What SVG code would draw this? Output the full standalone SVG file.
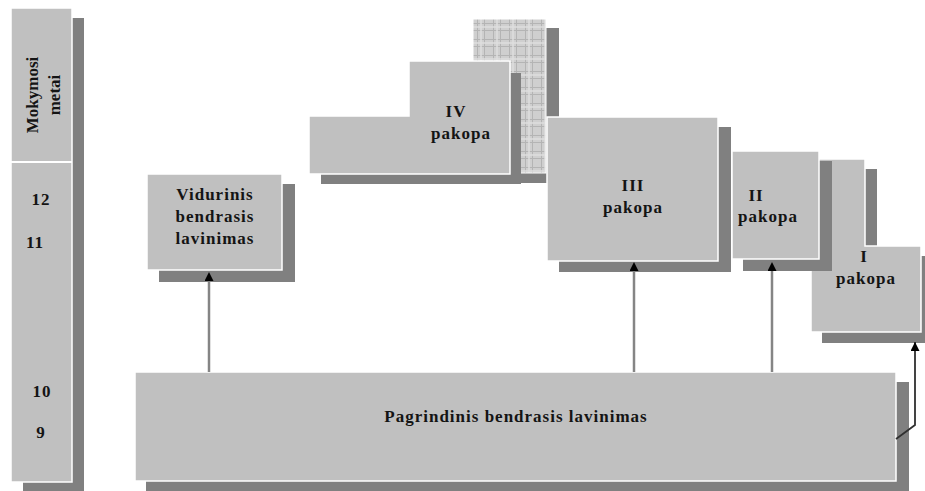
<svg xmlns="http://www.w3.org/2000/svg" width="925" height="491" viewBox="0 0 925 491">
  <style>
    .bx { fill: #c0c0c0; stroke: #ffffff; stroke-width: 1.5; }
    .sh { fill: #808080; }
    .hx { fill: url(#grid); stroke: #ffffff; stroke-width: 1; }
    .t { font-family: "Liberation Serif", "Times New Roman", serif; font-weight: bold; font-size: 17px; fill: #141414; letter-spacing: 1px; }
    .tm { font-family: "Liberation Serif", "Times New Roman", serif; font-weight: bold; font-size: 17px; fill: #141414; }
    .ln { fill: none; stroke: #858585; stroke-width: 2.5; }
    .ln2 { fill: none; stroke: #303030; stroke-width: 1.8; }
  </style>
  <defs>
    <pattern id="grid" width="16" height="16" patternUnits="userSpaceOnUse" x="473" y="19">
      <rect width="16" height="16" fill="#cfcfcf"/>
      <path d="M0,4.5 H16 M4.5,0 V16 M0,11.5 H16 M11.5,0 V16" stroke="#b4b4b4" stroke-width="1"/>
      <path d="M0,8 H16 M8,0 V16" stroke="#dedede" stroke-width="1.5"/>
    </pattern>
    <marker id="ah" viewBox="0 0 10 10" refX="10" refY="5" markerWidth="10" markerHeight="9" markerUnits="userSpaceOnUse" orient="auto">
      <path d="M0,0 L10,5 L0,10 Z" fill="#000000"/>
    </marker>
  </defs>

  <!-- school-year scale -->
  <g id="years">
    <rect class="sh" x="23" y="18" width="61" height="474"/>
    <rect class="bx" x="11" y="8" width="61" height="474"/>
    <line x1="11" y1="162" x2="72" y2="162" stroke="#ffffff" stroke-width="2"/>
    <text class="tm" text-anchor="middle" transform="translate(38,95) rotate(-90)">Mokymosi</text>
    <text class="tm" text-anchor="middle" transform="translate(60,95) rotate(-90)">metai</text>
    <text class="t" x="41" y="205" text-anchor="middle">12</text>
    <text class="t" x="35" y="248" text-anchor="middle">11</text>
    <text class="t" x="42" y="397" text-anchor="middle">10</text>
    <text class="t" x="41" y="438" text-anchor="middle">9</text>
  </g>

  <!-- upper secondary -->
  <g id="vidurinis">
    <rect class="sh" x="159" y="184" width="136" height="98"/>
    <rect class="bx" x="147" y="174" width="135" height="96"/>
    <text class="t" x="215" y="200" text-anchor="middle">Vidurinis</text>
    <text class="t" x="215" y="222" text-anchor="middle">bendrasis</text>
    <text class="t" x="215" y="244" text-anchor="middle">lavinimas</text>
  </g>

  <!-- gridded block -->
  <g id="grid-block">
    <rect class="sh" x="485" y="28" width="74" height="155"/>
    <rect class="hx" x="473" y="19" width="73" height="154"/>
  </g>

  <!-- level IV -->
  <g id="pakopa-iv">
    <path class="sh" d="M421,73 H521 V184 H321 V127 H421 Z"/>
    <path class="bx" d="M409,61 H510 V174 H309 V116 H409 Z"/>
    <text class="t" x="456" y="117" text-anchor="middle">IV</text>
    <text class="t" x="461" y="139" text-anchor="middle">pakopa</text>
  </g>

  <!-- level III -->
  <g id="pakopa-iii">
    <rect class="sh" x="559" y="127" width="172" height="145"/>
    <rect class="bx" x="547" y="117" width="171" height="144"/>
    <text class="t" x="633" y="191" text-anchor="middle">III</text>
    <text class="t" x="633" y="213" text-anchor="middle">pakopa</text>
  </g>

  <!-- level I -->
  <g id="pakopa-i">
    <path class="sh" d="M822,169 H877 V256 H933 V343 H822 Z"/>
    <path class="bx" d="M811,159 H865 V246 H921 V332 H811 Z"/>
    <text class="t" x="864" y="262" text-anchor="middle">I</text>
    <text class="t" x="866" y="284" text-anchor="middle">pakopa</text>
  </g>

  <!-- level II -->
  <g id="pakopa-ii">
    <rect class="sh" x="743" y="161" width="89" height="110"/>
    <rect class="bx" x="732" y="151" width="87" height="108"/>
    <text class="t" x="756" y="201" text-anchor="middle">II</text>
    <text class="t" x="768" y="222" text-anchor="middle">pakopa</text>
  </g>

  <!-- lower secondary -->
  <g id="pagrindinis">
    <rect class="sh" x="146" y="382" width="763" height="110"/>
    <rect class="bx" x="135" y="372" width="761" height="109"/>
    <text class="t" x="516" y="422" text-anchor="middle">Pagrindinis bendrasis lavinimas</text>
  </g>

  <!-- transitions -->
  <g id="connectors">
    <line class="ln" x1="209" y1="372" x2="209" y2="272" marker-end="url(#ah)"/>
    <line class="ln" x1="634" y1="372" x2="634" y2="262" marker-end="url(#ah)"/>
    <line class="ln" x1="772" y1="372" x2="772" y2="262" marker-end="url(#ah)"/>
    <polyline class="ln2" points="896,439 915,425 915,342" marker-end="url(#ah)"/>
  </g>
</svg>
